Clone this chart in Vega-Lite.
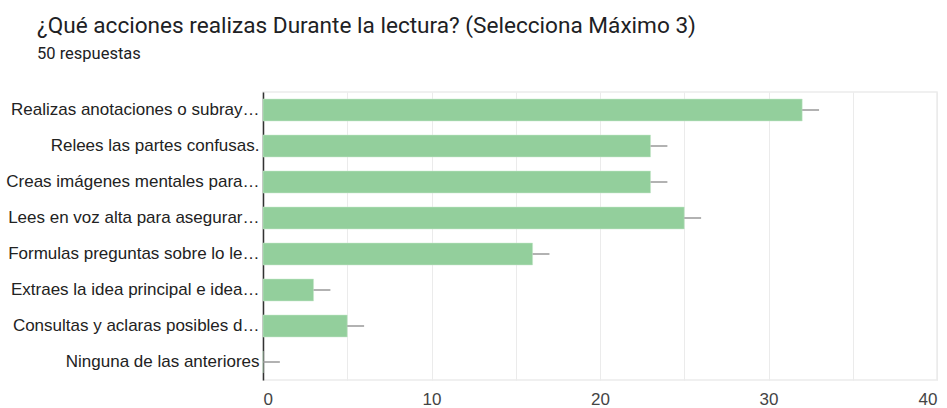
{
  "$schema": "https://vega.github.io/schema/vega-lite/v6.json",
  "autosize": {"type": "none"},
  "padding": {"left": 263, "top": 92, "right": 10, "bottom": 28},
  "width": 674,
  "height": 288,
  "background": "white",
  "title": {
    "text": "¿Qué acciones realizas Durante la lectura? (Selecciona Máximo 3)",
    "subtitle": "50 respuestas",
    "anchor": "start",
    "frame": "group",
    "dx": -226,
    "offset": 30,
    "font": "Roboto",
    "fontSize": 22.6,
    "fontWeight": "normal",
    "color": "#202124",
    "subtitleFont": "Roboto",
    "subtitleFontSize": 16.5,
    "subtitleColor": "#202124",
    "subtitlePadding": 8
  },
  "data": {
    "values": [
      {"accion": "Realizas anotaciones o subray…", "respuestas": 32, "fin": 33},
      {"accion": "Relees las partes confusas.", "respuestas": 23, "fin": 24},
      {"accion": "Creas imágenes mentales para…", "respuestas": 23, "fin": 24},
      {"accion": "Lees en voz alta para asegurar…", "respuestas": 25, "fin": 26},
      {"accion": "Formulas preguntas sobre lo le…", "respuestas": 16, "fin": 17},
      {"accion": "Extraes la idea principal e idea…", "respuestas": 3, "fin": 4},
      {"accion": "Consultas y aclaras posibles d…", "respuestas": 5, "fin": 6},
      {"accion": "Ninguna de las anteriores", "respuestas": 0, "fin": 1}
    ]
  },
  "encoding": {
    "y": {
      "field": "accion",
      "type": "nominal",
      "sort": null,
      "scale": {"paddingInner": 0.39, "paddingOuter": 0.195},
      "axis": {
        "title": null,
        "labelFont": "Liberation Sans",
        "labelFontSize": 17,
        "labelColor": "#222222",
        "labelLimit": 300,
        "labelPadding": 4,
        "ticks": false,
        "domain": true,
        "domainColor": "#333333",
        "domainWidth": 1.5,
        "grid": false
      }
    }
  },
  "layer": [
    {
      "mark": {"type": "bar", "color": "#93cf9c", "stroke": "#c8e8cc", "strokeWidth": 0.5},
      "encoding": {
        "x": {
          "field": "respuestas",
          "type": "quantitative",
          "scale": {"domain": [0, 40], "nice": false},
          "axis": {
            "title": null,
            "values": [0, 5, 10, 15, 20, 25, 30, 35, 40],
            "labelExpr": "datum.value % 10 === 0 ? datum.label : ''",
            "labelFont": "Liberation Sans",
            "labelFontSize": 17,
            "labelColor": "#444444",
            "labelPadding": 11,
            "ticks": false,
            "domain": false,
            "grid": true,
            "gridColor": "#ebebeb",
            "gridWidth": 1
          }
        }
      }
    },
    {
      "mark": {"type": "rule", "color": "#999999", "strokeWidth": 1.5},
      "encoding": {
        "x": {"field": "respuestas", "type": "quantitative"},
        "x2": {"field": "fin"}
      }
    }
  ],
  "config": {
    "view": {"stroke": "#ebebeb", "strokeWidth": 1.5}
  }
}
